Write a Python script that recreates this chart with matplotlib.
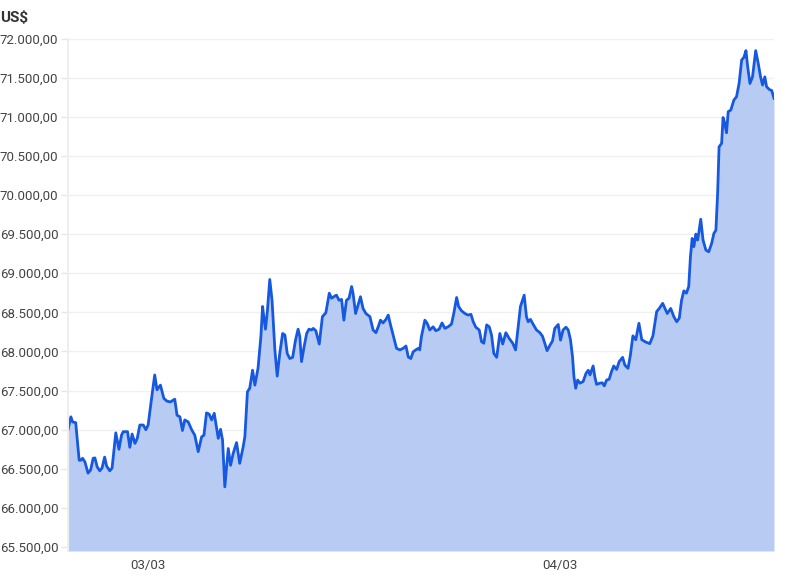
import pandas as pd
import matplotlib
matplotlib.use('Agg')
import matplotlib.pyplot as plt
import matplotlib.dates as mdates
from matplotlib.ticker import FuncFormatter, MultipleLocator

plt.rcParams['font.family'] = ['Roboto', 'DejaVu Sans']

# price samples per day (time, US$)
t_0203 = ['19:21', '19:31', '19:37', '19:48', '20:00', '20:06', '20:12', '20:20', '20:31', '20:40',
          '20:49', '20:55', '21:03', '21:12', '21:20', '21:29', '21:36', '21:47', '21:55', '22:08',
          '22:19', '22:28', '22:34', '22:49', '22:57', '23:05', '23:15', '23:23', '23:32', '23:44',
          '23:53']
p_0203 = [67000, 67165, 67100, 67090, 66610, 66610, 66635, 66590, 66445, 66485,
          66635, 66640, 66525, 66475, 66510, 66650, 66535, 66475, 66510, 66960,
          66750, 66930, 66975, 66975, 66775, 66945, 66825, 66890, 67060, 67060,
          67000]

t_0303 = ['00:01', '00:13', '00:24', '00:32', '00:44', '00:56', '01:07', '01:19', '01:34', '01:42',
          '01:52', '02:01', '02:09', '02:21', '02:33', '02:44', '02:56', '03:08', '03:16', '03:25',
          '03:34', '03:43', '03:52', '04:06', '04:14', '04:21', '04:29', '04:41', '04:49', '04:58',
          '05:10', '05:21', '05:33', '05:39', '05:48', '05:56', '06:06', '06:14', '06:25', '06:35',
          '06:41', '06:45', '06:51', '06:58', '07:06', '07:14', '07:24', '07:32', '07:41', '07:51',
          '07:59', '08:07', '08:16', '08:26', '08:36', '08:45', '08:51', '08:57', '09:06', '09:15',
          '09:23', '09:32', '09:38', '09:47', '09:59', '10:10', '10:22', '10:34', '10:42', '10:50',
          '10:59', '11:08', '11:17', '11:25', '11:34', '11:43', '11:52', '11:57', '12:06', '12:23',
          '12:32', '12:42', '12:56', '13:07', '13:17', '13:25', '13:33', '13:42', '13:52', '14:00',
          '14:08', '14:17', '14:29', '14:41', '14:52', '15:02', '15:10', '15:19', '15:27', '15:36',
          '15:45', '15:50', '15:56', '16:08', '16:16', '16:25', '16:37', '16:46', '16:58', '17:08',
          '17:18', '17:29', '17:41', '17:49', '17:59', '18:06', '18:16', '18:28', '18:39', '18:49',
          '18:57', '19:06', '19:18', '19:26', '19:34', '19:44', '19:53', '20:01', '20:09', '20:19',
          '20:30', '20:40', '20:51', '21:03', '21:15', '21:25', '21:34', '21:42', '21:55', '22:03',
          '22:09', '22:17', '22:26', '22:38', '22:50', '22:59', '23:07', '23:15', '23:25', '23:34',
          '23:42', '23:54']
p_0303 = [67060, 67400, 67700, 67510, 67570, 67400, 67365, 67355, 67390, 67185,
          67165, 66990, 67125, 67100, 67000, 66930, 66720, 66910, 66930, 67215,
          67200, 67125, 67210, 66890, 67005, 66870, 66270, 66760, 66545, 66695,
          66835, 66570, 66780, 66910, 67485, 67530, 67760, 67570, 67785, 68190,
          68575, 68445, 68285, 68530, 68920, 68655, 68015, 67685, 67975, 68230,
          68210, 67975, 67910, 67925, 68145, 68285, 68190, 67870, 68060, 68230,
          68285, 68275, 68295, 68265, 68095, 68445, 68495, 68745, 68680, 68700,
          68720, 68655, 68665, 68400, 68655, 68680, 68830, 68745, 68485, 68700,
          68550, 68485, 68445, 68275, 68240, 68315, 68400, 68365, 68410, 68465,
          68340, 68210, 68040, 68020, 68040, 68070, 67930, 67910, 67995, 68020,
          68040, 68020, 68190, 68400, 68360, 68275, 68315, 68265, 68285, 68365,
          68295, 68315, 68350, 68485, 68690, 68575, 68520, 68485, 68465, 68475,
          68380, 68310, 68275, 68125, 68105, 68340, 68315, 68210, 67975, 67925,
          68230, 68095, 68240, 68165, 68105, 68020, 68315, 68575, 68720, 68445,
          68380, 68410, 68350, 68275, 68240, 68195, 68105, 68010, 68080, 68135,
          68295, 68345]

t_0403 = ['00:02', '00:11', '00:21', '00:29', '00:37', '00:44', '00:49', '00:55', '01:02', '01:10',
          '01:21', '01:31', '01:39', '01:45', '01:56', '02:02', '02:08', '02:20', '02:28', '02:35',
          '02:43', '02:52', '03:00', '03:08', '03:18', '03:27', '03:39', '03:47', '03:58', '04:06',
          '04:15', '04:25', '04:36', '04:46', '05:00', '05:14', '05:25', '05:38', '05:47', '05:59',
          '06:07', '06:15', '06:27', '06:38', '06:48', '06:57', '07:05', '07:13', '07:22', '07:30',
          '07:36', '07:42', '07:48', '07:55', '08:01', '08:05', '08:12', '08:20', '08:30', '08:40',
          '08:50', '08:58', '09:05', '09:11', '09:16', '09:25', '09:30', '09:36', '09:42', '09:48',
          '09:57', '10:08', '10:17', '10:26', '10:35', '10:43', '10:50', '10:56', '11:04', '11:13',
          '11:24', '11:33', '11:41', '11:48', '11:56', '12:02', '12:11', '12:20', '12:28']
p_0403 = [68145, 68275, 68310, 68275, 68145, 67930, 67675, 67530, 67635, 67595,
          67615, 67720, 67760, 67700, 67815, 67675, 67580, 67595, 67600, 67560,
          67635, 67645, 67740, 67815, 67770, 67870, 67925, 67825, 67785, 67950,
          68200, 68150, 68360, 68150, 68120, 68100, 68200, 68510, 68550, 68615,
          68550, 68485, 68550, 68445, 68380, 68425, 68655, 68775, 68745, 68830,
          69210, 69445, 69340, 69500, 69425, 69510, 69690, 69425, 69295, 69275,
          69380, 69510, 69550, 70020, 70615, 70660, 70990, 70915, 70795, 71065,
          71085, 71215, 71255, 71425, 71725, 71760, 71845, 71640, 71425, 71510,
          71845, 71680, 71510, 71405, 71510, 71385, 71350, 71335, 71235]

x_ticks = ['2024-03-03', '2024-03-04']
x_tick_labels = ['03/03', '04/03']

times = pd.to_datetime(['2024-03-02 ' + t for t in t_0203] +
                       ['2024-03-03 ' + t for t in t_0303] +
                       ['2024-03-04 ' + t for t in t_0403])
prices = p_0203 + p_0303 + p_0403

y_min, y_max = 65450, 72000

fig = plt.figure(figsize=(7.94, 5.75), dpi=100)
ax = fig.add_axes([68 / 794, 24 / 575, 706 / 794, 512.5 / 575])

ax.fill_between(times, prices, y_min, color='#b8ccf3', linewidth=0)
ax.plot(times, prices, color='#1658e0', linewidth=2.0, solid_joinstyle='round')

ax.set_xlim(times[0], times[-1])
ax.set_ylim(y_min, y_max)

ax.yaxis.set_major_locator(MultipleLocator(500))


def brl(v, pos):
    s = f'{v:,.2f}'
    return s.replace(',', 'X').replace('.', ',').replace('X', '.')


ax.yaxis.set_major_formatter(FuncFormatter(brl))
ax.set_yticks(range(65500, 72001, 500))
ax.set_xticks(pd.to_datetime(x_ticks))
ax.set_xticklabels(x_tick_labels)

ax.grid(axis='y', color='#f0f0f0', linewidth=1)
ax.set_axisbelow(True)
for side in ['top', 'right', 'bottom']:
    ax.spines[side].set_visible(False)
ax.spines['left'].set_color('#eeeeee')
ax.spines['left'].set_linewidth(1.5)

ax.tick_params(axis='y', length=5, width=1, color='#e6e6e6', labelsize=9.5,
               labelcolor='#444444', pad=2)
ax.tick_params(axis='x', length=0, labelsize=9.5, labelcolor='#444444', pad=6)

fig.text(0.0, 1 - 18 / 575, 'US$', fontsize=11, fontweight='bold', color='#333333',
         ha='left', va='center')

fig.savefig('out.png', dpi=100)
